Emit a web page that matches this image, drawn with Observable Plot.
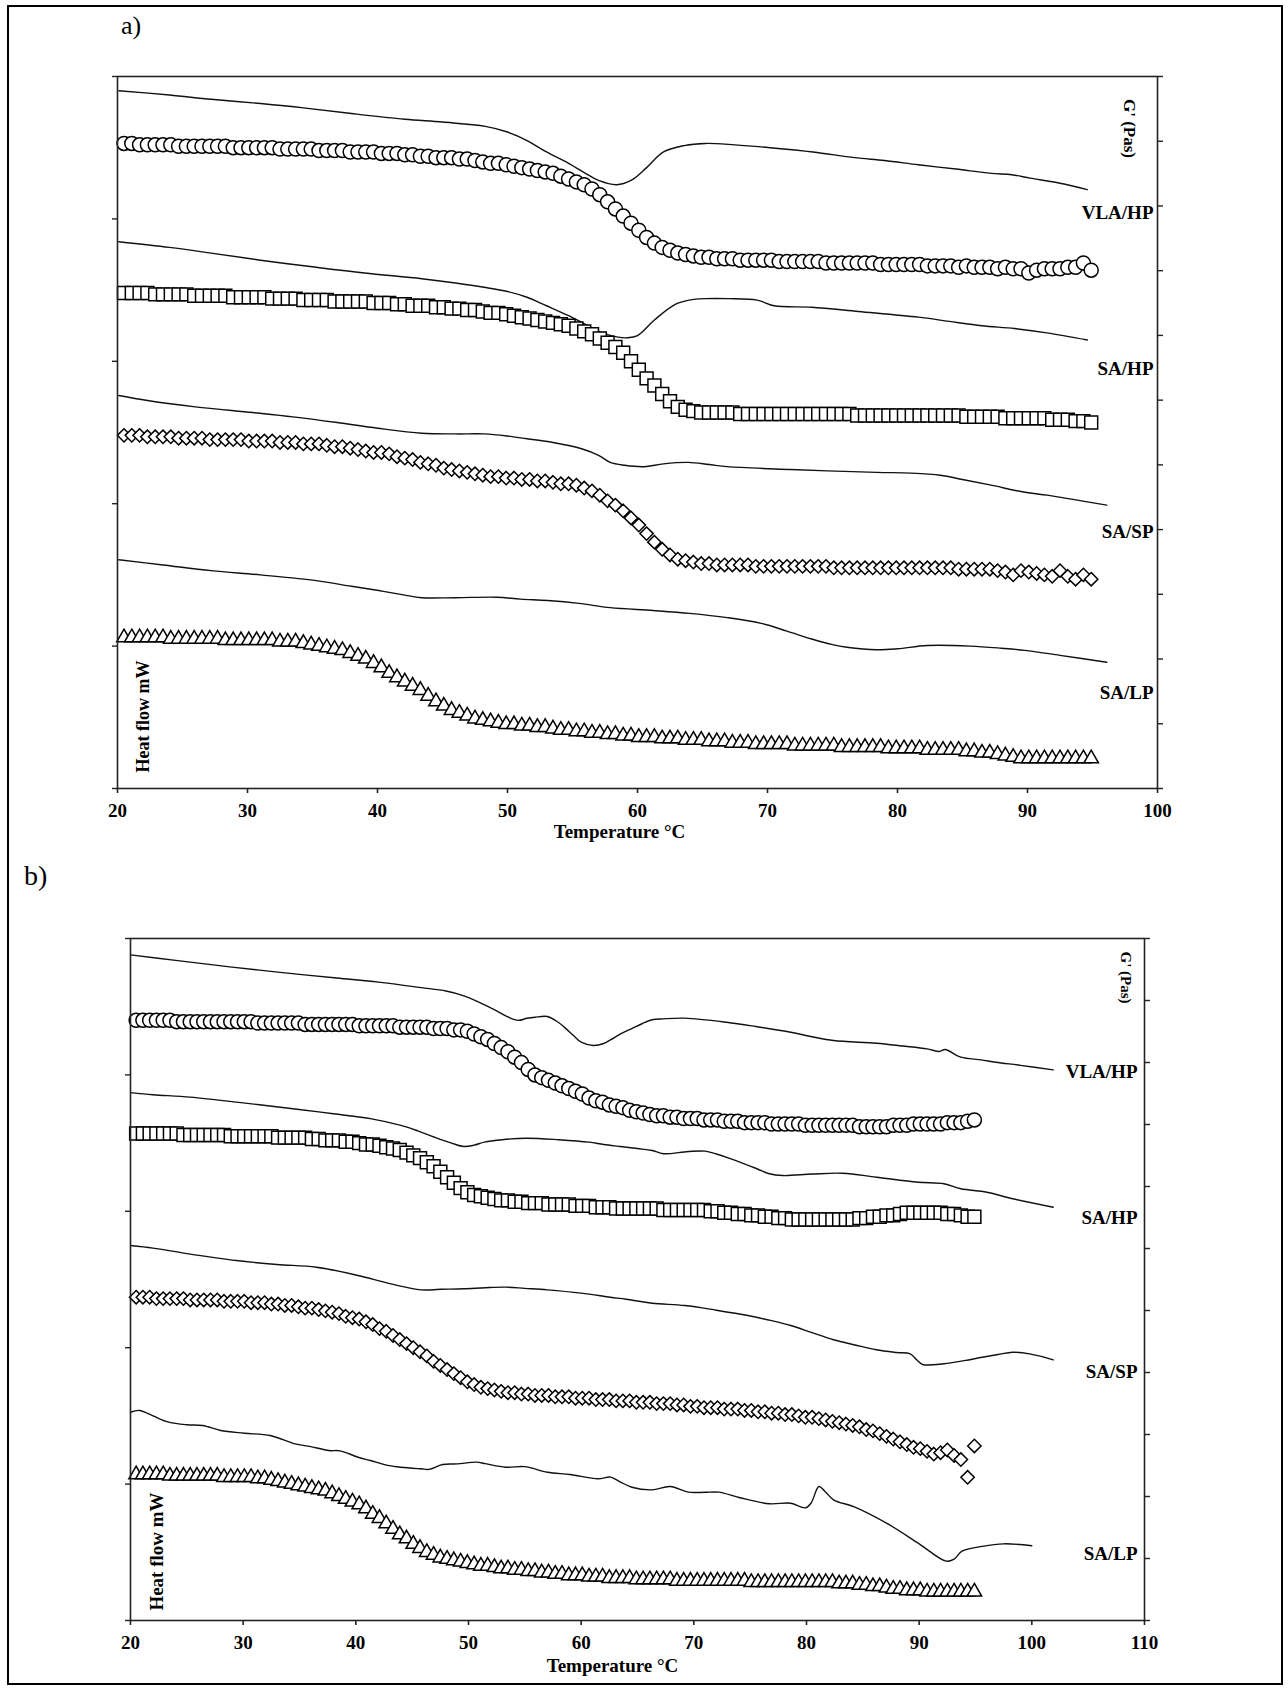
<!DOCTYPE html>
<html>
<head>
<meta charset="utf-8">
<script src="https://cdn.jsdelivr.net/npm/d3@7"></script>
<script src="https://cdn.jsdelivr.net/npm/@observablehq/plot@0.6"></script>
<style>
html, body { margin: 0; padding: 0; background: #fff; }
#page { position: relative; width: 1288px; height: 1695px; overflow: hidden; font-family: "Liberation Serif", "Times New Roman", serif; }
#border { position: absolute; left: 7px; top: 5px; width: 1276px; height: 1680px; border: 2px solid #000; box-sizing: border-box; }
.panel-label { position: absolute; line-height: 1; color: #000; }
#plotA { position: absolute; left: 77px; top: 56px; width: 1130px; }
#plotB { position: absolute; left: 90px; top: 918px; width: 1104px; }
</style>
</head>
<body>
<div id="page">
  <div id="border"></div>
  <div class="panel-label" style="left:121px; top:13px; font-size:26px;">a)</div>
  <div class="panel-label" style="left:24px; top:862px; font-size:28px;">b)</div>
  <div id="plotA"></div>
  <div id="plotB"></div>
</div>
<script>
// ---------- shared temperature grid of the G' (rheology) measurements, °C ----------
const tempGrid = [20.5,21.1,21.7,22.3,22.9,23.5,24.1,24.7,25.3,25.9,26.5,27.1,27.7,28.3,28.9,29.5,30.1,30.7,31.3,31.9,32.5,33.1,33.7,34.3,34.9,35.5,36.1,36.7,37.3,37.9,38.5,39.1,39.7,40.3,40.9,41.5,42.1,42.7,43.3,43.9,44.5,45.1,45.7,46.3,46.9,47.5,48.1,48.7,49.3,49.9,50.5,51.1,51.7,52.3,52.9,53.5,54.1,54.7,55.3,55.9,56.5,57.1,57.7,58.3,58.9,59.5,60.1,60.7,61.3,61.9,62.5,63.1,63.7,64.3,64.9,65.5,66.1,66.7,67.3,67.9,68.5,69.1,69.7,70.3,70.9,71.5,72.1,72.7,73.3,73.9,74.5,75.1,75.7,76.3,76.9,77.5,78.1,78.7,79.3,79.9,80.5,81.1,81.7,82.3,82.9,83.5,84.1,84.7,85.3,85.9,86.5,87.1,87.7,88.3,88.9,89.5,90.1,90.7,91.3,91.9,92.5,93.1,93.7,94.3,94.9];

// ---------- panel a: G' symbols (relative plot units, left axis 0–500) ----------
const aGVLAHP = [453,453,452,452,452,452,452,451,451,451,451,451,451,451,450,450,450,450,450,450,449,449,449,449,449,448,448,448,448,447,447,447,447,446,446,446,445,445,444,444,443,443,443,442,442,441,440,439,439,438,437,436,435,434,433,432,430,428,426,424,421,417,412,407,402,397,392,387,383,380,378,376,375,374,373,373,372,372,372,371,371,371,371,371,370,370,370,370,370,370,369,369,369,369,369,369,369,368,368,368,368,368,368,367,367,367,367,366,367,366,366,366,365,366,365,365,362,364,365,365,365,366,366,369,364];
const aGSAHP = [348,348,348,348,347,347,347,347,347,346,346,346,346,346,345,345,345,345,345,344,344,344,344,343,343,343,343,342,342,342,342,342,341,341,341,340,340,339,339,339,338,338,337,337,336,336,335,334,334,333,332,331,330,329,328,327,326,325,323,321,319,316,313,310,306,300,294,288,283,277,272,268,266,265,264,264,264,264,264,263,263,263,263,263,263,263,263,263,263,263,263,263,263,263,262,262,262,262,262,262,262,262,262,262,262,262,262,262,261,261,261,261,261,260,260,260,260,260,260,259,259,259,258,258,257];
const aGSASP = [248,248,248,247,247,247,247,246,246,246,246,245,245,245,245,245,244,244,244,244,243,243,243,242,242,242,241,240,240,239,238,237,236,236,235,233,232,231,229,228,227,225,224,223,222,221,220,219,219,218,218,217,217,216,216,215,214,214,213,211,209,206,202,199,195,190,185,179,173,168,164,161,160,159,158,158,157,157,157,157,157,156,156,156,156,156,156,156,156,156,156,155,155,155,155,155,155,155,155,155,155,155,155,155,155,155,155,154,154,154,154,154,153,152,150,153,152,151,150,149,153,149,147,150,147];
const aGSALP = [106,106,106,106,106,106,105,105,105,105,105,105,105,104,104,104,104,104,104,104,103,103,103,102,101,100,99,98,97,95,93,91,88,85,81,78,75,72,69,65,61,58,55,53,51,49,48,47,46,45,45,44,44,43,43,42,41,41,40,40,39,39,38,38,37,37,36,36,36,35,35,35,34,34,34,33,33,33,32,32,32,31,31,31,31,31,30,30,30,30,30,30,29,29,29,29,29,29,28,28,28,28,28,27,27,27,27,27,26,26,25,25,24,23,22,21,21,21,21,21,21,21,21,21,21];

// ---------- panel a: heat-flow traces [°C, relative units] ----------
const aHFVLAHP = [[20.1,490],[24,487],[27.2,484],[31,481],[34.3,478],[38,474],[42.1,470],[45,468],[48.3,465],[50,461],[51.5,455],[53,447],[54.7,439],[56,432],[57,427],[58.4,424],[59.5,427],[60.7,436],[62,447],[63.6,451.5],[65.2,453],[67.5,452],[70.2,450],[73.5,447],[76.7,443],[79,441],[81.6,438],[84.5,435],[87.2,432],[88.8,431],[90.2,428.6],[92.5,425],[94.6,420.6]];
const aHFSAHP = [[20.1,384],[24,380],[27.2,376],[31,371],[35.3,366],[39,362],[43.4,358],[46,355],[48.2,352],[50,349],[51.5,345],[53,339],[54.7,332],[56,326],[57.3,320],[58.5,317],[59.2,316.5],[60,318],[61.3,329],[62.9,340],[64,343],[65.2,344],[67,344],[69.2,343],[70.5,339],[73.4,338],[77,335],[81.6,331],[84,328],[86.5,325],[89,323],[91.5,320],[94.6,315]];
const aHFSASP = [[20.1,276],[22.3,272.5],[26,268],[30.4,264],[33.5,261],[36.9,257],[40,253],[43.4,249.5],[46,249],[48.2,249],[50,247.5],[51.5,245.6],[53.5,243],[55.7,238.6],[57,234],[57.9,229],[59,227],[60.5,226],[62,228],[63.9,229],[65.5,227.5],[66.9,226],[71.8,224],[78.4,222],[81,221.5],[83.3,220],[85,217],[87.2,213],[89.8,208],[91.5,206],[93.5,203],[96.1,199]];
const aHFSALP = [[20.1,160.6],[23.5,157],[27.2,153],[31,150],[35.3,146],[38,142],[40.1,139],[42,136],[43.4,134],[46,134],[49.2,134.3],[51,133],[53.1,132],[55.5,130],[57.9,127],[61.2,125],[64,123],[66.9,120],[69.5,116],[71.5,110.5],[73.4,105],[75,101],[76.1,99.2],[78.4,97.4],[80,98.1],[82.3,100.4],[85.6,100],[88,98.5],[89.8,97],[92.5,93.5],[96.1,88.7]];

// ---------- panel b: G' symbols ----------
const bGVLAHP = [440,440,440,440,440,440,439,439,439,439,439,439,439,439,439,439,439,439,438,438,438,438,438,438,438,437,437,437,437,437,437,437,437,436,436,436,436,436,436,435,435,435,435,435,434,434,434,433,433,432,430,428,426,423,420,417,413,409,404,400,398,396,394,392,390,388,386,383,381,380,378,377,376,374,373,372,371,370,370,369,369,368,368,368,367,367,367,366,366,366,365,365,365,365,364,364,364,364,364,363,363,363,363,363,363,363,363,362,362,362,362,362,363,363,363,364,364,364,364,364,365,365,365,366,367];
const bGSAHP = [357,357,357,357,357,357,357,356,356,356,356,356,356,356,355,355,355,355,355,355,355,354,354,354,354,354,353,353,352,352,352,351,351,350,349,349,348,347,346,345,343,341,339,336,333,329,325,321,317,314,312,311,310,309,308,308,307,307,306,306,306,305,305,305,305,304,304,304,303,303,303,302,302,302,302,302,302,302,301,301,301,301,301,301,301,300,300,299,299,298,298,297,297,296,296,295,295,294,294,294,294,294,294,294,294,294,294,295,295,296,296,297,297,298,299,299,299,299,299,299,298,298,297,296,296];
const bGSASP = [237,237,237,236,236,236,236,236,235,235,235,235,235,234,234,234,234,233,233,233,232,232,231,231,230,229,229,228,227,226,225,223,222,221,219,217,214,212,209,206,203,200,197,194,190,187,184,181,178,175,173,171,170,169,168,167,167,166,166,165,165,165,164,164,164,163,163,163,162,162,162,161,161,161,160,160,160,159,159,159,158,158,157,157,156,156,156,155,155,155,154,154,153,153,152,152,151,151,150,149,149,148,147,146,145,144,143,142,140,139,137,135,133,131,129,127,126,124,122,123,125,121,118,105,128];
const bGSALP = [107,107,107,107,107,106,106,106,106,106,106,106,106,105,105,105,105,105,104,104,103,102,101,100,99,98,97,96,95,93,91,89,87,85,82,78,75,71,67,63,60,56,53,50,48,46,45,44,43,42,41,40,40,39,38,38,37,37,36,36,35,35,34,34,33,33,33,32,32,32,31,31,31,31,30,30,30,30,30,30,29,29,29,29,29,29,29,29,29,29,29,28,28,28,28,28,28,28,28,28,28,28,28,28,27,27,27,26,26,25,25,24,23,23,22,22,22,21,21,21,21,21,21,21,21];

// ---------- panel b: heat-flow traces ----------
const bHFVLAHP = [[20,488],[24,484],[29,479],[33.5,475],[38.3,471],[42,468],[45.8,464],[48,461.5],[49.6,458],[51,453],[52.5,447],[53.5,442.5],[54.4,440],[55.2,441.5],[55.9,442.3],[57,442.8],[57.8,439.5],[58.5,435],[59.3,429],[60,424],[61.1,421.6],[62,423],[62.6,425.7],[63.5,430],[64.5,434],[65.4,437.5],[66.3,440.4],[67.3,441.1],[69.2,441.6],[72.9,438.6],[75.5,435.5],[78.6,431.3],[80.5,428],[82.4,425.2],[86.2,423.2],[88.5,421.2],[90.7,419.1],[91.8,417.2],[92.3,418.6],[93.7,413],[95.5,411],[96.8,409.3],[99,407],[101.9,403.7]];
const bHFSAHP = [[20,387],[22,385.5],[25.3,383.7],[30,379.5],[34.6,375],[38,371.5],[41.4,367.8],[44,363],[45.5,359],[47,354.3],[48.5,350],[49.6,347.5],[50.5,348.5],[51.4,350.7],[53,352.5],[55.1,353.6],[58,352.5],[60.7,350.7],[62,349],[63.5,347.5],[65,346],[66.3,344.6],[67.3,342.2],[69.5,343.8],[71,344.1],[72,342],[73.3,338.5],[75.6,331.2],[76.7,327.5],[77.9,326.2],[80.5,327.3],[83.2,327.9],[86.2,325],[89.9,321.3],[92.2,320.2],[93.7,316.5],[96,314],[98.3,309.2],[101.9,303]];
const bHFSASP = [[20,274.9],[22,273],[25,269],[29.4,263.9],[33,261],[36.5,259],[40.2,252.9],[43,247],[45.8,242.4],[47.5,242.8],[49.6,243.2],[51.5,244],[53.3,244.4],[55,243.5],[57,242.4],[60,240],[62.6,237],[64,235.5],[66.3,232.6],[69.2,230.9],[72,227.5],[74.8,223.6],[76.8,220],[78.6,216.3],[80.5,211],[82.4,205.8],[84.3,202],[86.2,198.5],[88,196.5],[89.2,195.5],[89.8,191],[90.3,187.7],[92.2,188.2],[94,190.5],[95.6,193],[97,195],[98.3,196.7],[99.8,195.5],[101.9,191.1]];
const bHFSALP = [[20,152.7],[20.8,154],[22,150],[23.4,145.4],[25,143.5],[26.4,143],[28,139.3],[30.1,137.3],[32.4,135.6],[34.6,129.5],[36,127.5],[37.6,124.6],[38.6,124.4],[40.2,119.7],[41.3,117.3],[43,113.5],[44,112.4],[45.8,111.2],[46.5,110.8],[47.7,114.4],[49,114.8],[50.7,116.1],[51.5,115],[53.3,112.4],[55,112.8],[57,108.7],[59,107],[61.5,103.9],[62.6,105.1],[63.5,101.5],[64.5,97.7],[66.3,95.8],[67.9,98.2],[69.5,94.1],[71,94],[72.2,94.1],[74.1,90],[76.7,85.6],[78.6,86],[79.9,82.6],[80.4,86],[81.1,98.2],[81.6,95],[82.4,88.5],[84.3,83.1],[87.3,70.4],[90,56.2],[92.4,43.5],[93.1,45],[93.8,50.8],[95.6,54.3],[97.5,56.2],[100,54.8]];

// ---------- labels and ticks ----------
const seriesNames = ["VLA/HP", "SA/HP", "SA/SP", "SA/LP"];
const labelYA = [404, 295, 180, 67];
const labelYB = [402, 295, 182, 49];
const xTicksA = [20, 30, 40, 50, 60, 70, 80, 90, 100];
const xTicksB = [20, 30, 40, 50, 60, 70, 80, 90, 100, 110];
const leftTicks = [0, 100, 200, 300, 400, 500];
const rightTicks = d3.range(12).map(i => i * 500 / 11);

const symbolStyles = [
  {symbol: "circle", r: 7},
  {symbol: "square", r: 7.3},
  {symbol: "diamond2", r: 6},
  {symbol: "triangle", r: 5.4}
];

const toRows = vals => vals.map((v, i) => ({t: tempGrid[i], v}));

function panel({xDomain, xTicks, frameW, frameH, gSeries, hfSeries, labelY, labelDx, gpFont, gpDx, gpDy, hfFont, hfDx, hfDy, tempDx, tempDy}) {
  const lineMarks = hfSeries.map(s => Plot.line(s, {x: d => d[0], y: d => d[1], curve: "catmull-rom", stroke: "#111", strokeWidth: 1.4}));
  const dotMarks = gSeries.map((s, k) => Plot.dot(toRows(s), {x: "t", y: "v", symbol: symbolStyles[k].symbol, r: symbolStyles[k].r, fill: "white", stroke: "#000", strokeWidth: 1.5}));
  const labels = seriesNames.map((name, k) => ({name, y: labelY[k]}));
  return Plot.plot({
    width: 40 + frameW + 50,
    height: 20 + frameH + 60,
    marginLeft: 40, marginRight: 50, marginTop: 20, marginBottom: 60,
    x: {domain: xDomain},
    y: {domain: [0, 500]},
    style: {fontFamily: "'Liberation Serif', 'Times New Roman', serif", fontWeight: "bold", fontSize: "19px", color: "#000", background: "transparent", overflow: "visible"},
    marks: [
      ...lineMarks,
      ...dotMarks,
      Plot.frame({stroke: "#222", strokeWidth: 1.6}),
      Plot.axisX({ticks: xTicks, tickSize: 5, tickPadding: 10, label: null, stroke: "#222", strokeWidth: 1.6, fontSize: 19}),
      Plot.axisY({anchor: "left", ticks: leftTicks, tickSize: 5, tickFormat: () => "", label: null, stroke: "#222", strokeWidth: 1.4}),
      Plot.axisY({anchor: "right", ticks: rightTicks, tickSize: 5, tickFormat: () => "", label: null, stroke: "#222", strokeWidth: 1.4}),
      Plot.text(labels, {y: "y", text: "name", frameAnchor: "right", textAnchor: "end", lineAnchor: "middle", dx: labelDx, fontSize: 19}),
      Plot.text(["G' (Pas)"], {text: d => d, frameAnchor: "top-right", textAnchor: "middle", lineAnchor: "middle", dx: gpDx, dy: gpDy, rotate: 90, fontSize: gpFont}),
      Plot.text(["Heat flow mW"], {text: d => d, frameAnchor: "bottom-left", textAnchor: "middle", lineAnchor: "middle", dx: hfDx, dy: hfDy, rotate: -90, fontSize: hfFont}),
      Plot.text(["Temperature °C"], {text: d => d, frameAnchor: "bottom", textAnchor: "middle", lineAnchor: "middle", dx: tempDx, dy: tempDy, fontSize: 19})
    ]
  });
}

document.getElementById("plotA").append(panel({
  xDomain: [20, 100], xTicks: xTicksA, frameW: 1040, frameH: 712,
  gSeries: [aGVLAHP, aGSAHP, aGSASP, aGSALP],
  hfSeries: [aHFVLAHP, aHFSAHP, aHFSASP, aHFSALP],
  labelY: labelYA, labelDx: -4,
  gpFont: 17, gpDx: -28, gpDy: 52,
  hfFont: 18, hfDx: 26, hfDy: -72,
  tempDx: -18, tempDy: 43
}));

document.getElementById("plotB").append(panel({
  xDomain: [20, 110], xTicks: xTicksB, frameW: 1014, frameH: 682,
  gSeries: [bGVLAHP, bGSAHP, bGSASP, bGSALP],
  hfSeries: [bHFVLAHP, bHFSAHP, bHFSASP, bHFSALP],
  labelY: labelYB, labelDx: -7,
  gpFont: 15, gpDx: -19, gpDy: 39,
  hfFont: 19, hfDx: 26, hfDy: -69,
  tempDx: -25, tempDy: 45
}));
</script>
</body>
</html>
